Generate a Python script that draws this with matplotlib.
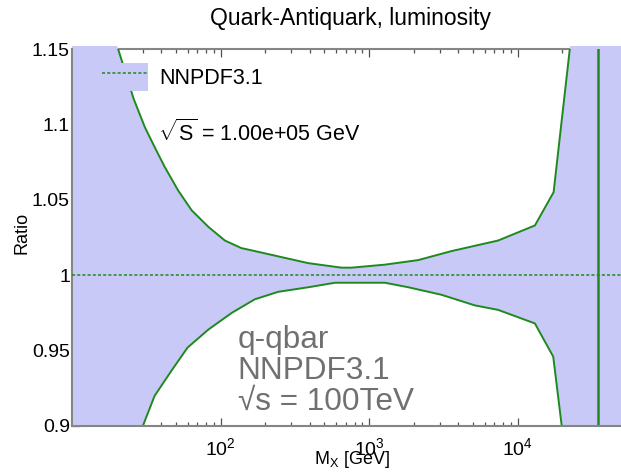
import numpy as np
import matplotlib
matplotlib.use("Agg")
import matplotlib.pyplot as plt
from matplotlib.patches import Rectangle
from matplotlib.legend_handler import HandlerTuple

plt.rcParams["font.family"] = ["Liberation Sans", "DejaVu Sans"]
plt.rcParams["mathtext.fontset"] = "custom"
plt.rcParams["mathtext.rm"] = "Liberation Sans"
plt.rcParams["mathtext.it"] = "Liberation Sans:italic"
plt.rcParams["mathtext.sf"] = "Liberation Sans"

# upper edge of the PDF uncertainty band (ratio to central value)
mx_up = [10, 18, 20, 22, 26, 31, 36, 42, 52, 64, 83, 107, 138, 189, 232, 390,
         653, 762, 1280, 2140, 3600, 6030, 7410, 13100, 17500, 22500, 25000, 1e5]
ratio_up = [1.40, 1.168, 1.153, 1.140, 1.117, 1.098, 1.085, 1.072, 1.056, 1.043,
            1.032, 1.023, 1.018, 1.015, 1.013, 1.008, 1.005, 1.005, 1.007, 1.010,
            1.016, 1.021, 1.023, 1.033, 1.055, 1.150, 1.19, 1.50]

# lower edge
mx_lo = [10, 25, 30, 36, 47, 60, 83, 119, 170, 245, 390, 590, 1280, 1840, 3080,
         5150, 7410, 13100, 17400, 19800, 22000, 1e5]
ratio_lo = [0.60, 0.88, 0.900, 0.920, 0.937, 0.952, 0.964, 0.975, 0.984, 0.989,
            0.992, 0.995, 0.995, 0.992, 0.987, 0.980, 0.977, 0.968, 0.946, 0.901,
            0.86, 0.50]

mx_central = [10, 1e5]
ratio_central = [1.0, 1.0]

mx_edge = 35100  # end of the band

yticks = [0.9, 0.95, 1.0, 1.05, 1.1, 1.15]
ytick_labels = ["0.9", "0.95", "1", "1.05", "1.1", "1.15"]

blue = "#c9c9f8"
green = "#1e8a1e"

fig = plt.figure(figsize=(6.21, 4.74), dpi=100)
ax = fig.add_axes([72 / 621, 48 / 474, 594 / 621, 377 / 474])

band = ax.fill(np.r_[mx_up, mx_lo[::-1]], np.r_[ratio_up, ratio_lo[::-1]],
               facecolor=blue, edgecolor="none", zorder=2)[0]
band.set_clip_path(Rectangle((0, 0), 1, 1.008, transform=ax.transAxes))

ax.plot(mx_up, ratio_up, color=green, lw=1.4, zorder=3)
ax.plot(mx_lo, ratio_lo, color=green, lw=1.4, zorder=3)
ax.axvline(mx_edge, color=green, lw=1.8, zorder=3)
central, = ax.plot(mx_central, ratio_central, color=green, lw=1.1,
                   ls=(0, (2, 1.4)), zorder=4)

ax.set_xscale("log")
ax.set_xlim(10, 1e5)
ax.set_ylim(0.9, 1.15)
ax.set_xticks([1e2, 1e3, 1e4])
ax.set_yticks(yticks, ytick_labels)

ax.set_axisbelow(True)
for side in ["left", "right", "top", "bottom"]:
    ax.spines[side].set_color("#858585")
    ax.spines[side].set_linewidth(1.5)
ax.spines["top"].set_zorder(1.5)
ax.spines["bottom"].set_zorder(5)

ax.tick_params(which="both", direction="in", top=True, bottom=True,
               left=True, right=False, color="#505050", width=0.9)
ax.tick_params(which="major", length=6)
ax.tick_params(which="minor", length=3)
ax.tick_params(axis="x", labelsize=14, pad=8)
ax.tick_params(axis="y", labelsize=14, pad=1.5)

leg = ax.legend([(band, central)], ["NNPDF3.1"],
                handler_map={tuple: HandlerTuple(ndivide=1)},
                loc="upper left", bbox_to_anchor=(0.0505, 0.963),
                frameon=False, fontsize=15.5, borderpad=0, borderaxespad=0,
                handlelength=2.14, handleheight=1.63, handletextpad=0.5)

ax.text(0.145, 0.777, r"$\sqrt{\mathrm{S}}$ = 1.00e+05 GeV",
        transform=ax.transAxes, fontsize=15.5, va="center", ha="left")

ax.text(0.279, 0.042, "q-qbar\nNNPDF3.1\n\u221as = 100TeV",
        transform=ax.transAxes, fontsize=22.7, color="#707070",
        va="baseline", ha="left", linespacing=1.05, zorder=6)

fig.text(351 / 621, 1 - 25 / 474, "Quark-Antiquark, luminosity",
         fontsize=16.5, ha="center", va="baseline")
fig.text(22 / 621, 1 - 233 / 474, "Ratio", rotation=90, fontsize=13,
         ha="center", va="center")
fig.text(352 / 621, 1 - 460 / 474, r"M$_\mathrm{X}$ [GeV]", fontsize=13,
         ha="center", va="center")

fig.savefig("out.png", dpi=100)
